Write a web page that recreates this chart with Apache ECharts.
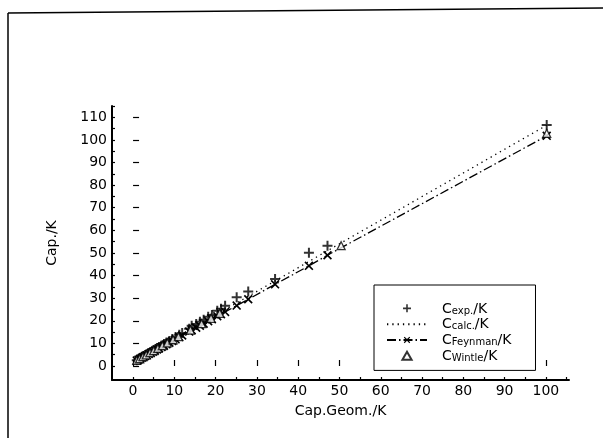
<!DOCTYPE html>
<html>
<head>
<meta charset="utf-8">
<script src="https://cdn.jsdelivr.net/npm/echarts@6/dist/echarts.min.js"></script>
<style>
  html, body { margin: 0; padding: 0; background: #fff; }
  #chart { width: 603px; height: 438px; }
</style>
</head>
<body>
<div id="chart"></div>
<script>
// geometric capacity (x) for the measured / calculated / Feynman values
const capGeom = [0.9, 1.3, 1.7, 2.1, 2.5, 2.9, 3.3, 3.8, 4.3, 4.8, 5.3, 5.8, 6.3, 6.9, 7.5, 8.1, 8.8, 9.5,
  10.3, 11.2, 11.9, 13.6, 14.2, 15.3, 16.2, 17.1, 18.2, 19.1, 20.4, 21.3, 22.3, 25.1, 27.9, 34.4, 42.6, 47.1, 100.2]
const capExp = [2.5, 2.9, 3.4, 3.8, 4.3, 4.7, 5.1, 5.7, 6.2, 6.8, 7.3, 7.9, 8.4, 9.1, 9.7, 10.4, 11.1, 11.9,
  12.8, 13.8, 14.6, 16.5, 17.8, 18.6, 19.6, 20.5, 21.8, 22.6, 24.4, 25.3, 26.6, 30.4, 32.9, 38.5, 50.1, 53.2, 106.6]
const capCalc = [2.4, 2.9, 3.3, 3.7, 4.1, 4.5, 5.0, 5.5, 6.0, 6.5, 7.1, 7.6, 8.1, 8.7, 9.4, 10.0, 10.7, 11.5,
  12.3, 13.3, 14.0, 15.8, 16.4, 17.6, 18.5, 19.5, 20.6, 21.6, 22.9, 23.9, 24.9, 27.9, 30.8, 37.6, 46.2, 51.0, 106.5]
const capFeynman = [2.4, 2.8, 3.2, 3.6, 4.0, 4.4, 4.8, 5.3, 5.8, 6.3, 6.8, 7.3, 7.8, 8.4, 9.0, 9.6, 10.3, 11.0,
  11.8, 12.8, 13.5, 15.2, 15.8, 16.9, 17.8, 18.7, 19.8, 20.7, 22.0, 22.9, 23.9, 26.7, 29.5, 36.1, 44.3, 49.0, 101.8]

// Wintle values have their own x positions
const wintleGeom = [0.9, 1.6, 2.4, 3.2, 4.1, 5.0, 6.0, 7.1, 8.3, 9.7, 11.0, 13.9, 16.6, 18.9, 21.0, 50.4, 100.2]
const capWintle = [2.5, 3.2, 4.1, 4.9, 5.9, 6.8, 7.8, 9.0, 10.2, 11.6, 13.0, 15.9, 18.7, 21.1, 23.3, 53.2, 102.9]

// tick labels
const xLabels = [0, 10, 20, 30, 40, 50, 60, 70, 80, 90, 100]
const yLabels = [0, 10, 20, 30, 40, 50, 60, 70, 80, 90, 100, 110]
const xMinorTicks = [0, 5, 10, 15, 20, 25, 30, 35, 40, 45, 50, 55, 60, 65, 70, 75, 80, 85, 90, 95, 100, 105]
const yMinorTicks = [0, 5, 10, 15, 20, 25, 30, 35, 40, 45, 50, 55, 60, 65, 70, 75, 80, 85, 90, 95, 100, 105, 110, 115]

const FONT = 'DejaVu Sans'
// symbol shapes
const plusPath = 'path://M4,0H6V4H10V6H6V10H4V6H0V4H4Z'
const crossPath = 'path://M1.3,0L5,3.7L8.7,0L10,1.3L6.3,5L10,8.7L8.7,10L5,6.3L1.3,10L0,8.7L3.7,5L0,1.3Z'
const triPath = 'path://M5,0L10,8.7L0,8.7Z'
const clear = 'rgba(0,0,0,0)'

const pairs = (xs, ys) => xs.map((x, i) => [x, ys[i]])

const chart = echarts.init(document.getElementById('chart'), null, { renderer: 'canvas' })

const baseAxis = {
  type: 'value',
  splitLine: { show: false },
  axisLine: { onZero: false, lineStyle: { color: '#000', width: 2 } }
}

const option = {
  animation: false,
  backgroundColor: '#fff',
  textStyle: { fontFamily: FONT, color: '#000' },
  grid: { left: 112, right: 34, top: 106, bottom: 58 },
  xAxis: [
    {
      ...baseAxis,
      min: -5.1,
      max: 105.6,
      name: 'Cap.Geom./K',
      nameLocation: 'middle',
      nameGap: 24,
      nameTextStyle: { fontFamily: FONT, fontSize: 14, color: '#000' },
      axisTick: { inside: true, length: 3, customValues: xMinorTicks, lineStyle: { color: '#000', width: 1.2 } },
      axisLabel: { customValues: xLabels, fontFamily: FONT, fontSize: 14, color: '#000', margin: 4 }
    },
    {
      type: 'value', position: 'bottom', min: -5.1, max: 105.6,
      splitLine: { show: false },
      axisLine: { show: false },
      axisLabel: { show: false },
      axisTick: { inside: true, length: 6, customValues: xLabels, lineStyle: { color: '#000', width: 1.2 } }
    }
  ],
  yAxis: [
    {
      ...baseAxis,
      min: -6.2,
      max: 115,
      name: 'Cap./K',
      nameLocation: 'middle',
      nameGap: 53,
      nameTextStyle: { fontFamily: FONT, fontSize: 14, color: '#000' },
      axisTick: { inside: true, length: 3, customValues: yMinorTicks, lineStyle: { color: '#000', width: 1.2 } },
      axisLabel: { customValues: yLabels, fontFamily: FONT, fontSize: 14, color: '#000', margin: 5 }
    },
    {
      type: 'value', position: 'left', min: -6.2, max: 115,
      splitLine: { show: false },
      axisLine: { show: false },
      axisLabel: { show: false },
      axisTick: { inside: true, length: 6, customValues: yLabels, lineStyle: { color: '#000', width: 1.2 } }
    }
  ],
  legend: {
    orient: 'vertical',
    left: 374,
    top: 285,
    padding: [17, 24, 7, 12],
    itemWidth: 40,
    itemHeight: 8,
    itemGap: 1.8,
    backgroundColor: '#fff',
    borderColor: '#000',
    borderWidth: 1,
    borderRadius: 0,
    data: [
      { name: 'exp' },
      { name: 'calc', itemStyle: { color: clear, borderColor: clear, borderWidth: 0 } },
      { name: 'Feynman' },
      { name: 'Wintle' }
    ],
    formatter: name => `{c|C}{s|${name === 'exp' ? 'exp.' : name === 'calc' ? 'calc.' : name}}{c|/K}`,
    textStyle: {
      fontFamily: FONT,
      color: '#000',
      rich: {
        c: { fontFamily: FONT, fontSize: 14, color: '#000', lineHeight: 15.3, verticalAlign: 'bottom' },
        s: { fontFamily: FONT, fontSize: 10, color: '#000', lineHeight: 15.3, verticalAlign: 'bottom' }
      },
      padding: [0, 0, 0, 10]
    }
  },
  graphic: [
    { type: 'line', shape: { x1: 8, y1: 13, x2: 603, y2: 8 }, style: { stroke: '#000', lineWidth: 1.5 }, silent: true },
    { type: 'line', shape: { x1: 8, y1: 13, x2: 8, y2: 438 }, style: { stroke: '#000', lineWidth: 1.5 }, silent: true }
  ],
  series: [
    {
      name: 'exp',
      type: 'scatter',
      data: pairs(capGeom, capExp),
      symbol: plusPath,
      symbolSize: 10,
      itemStyle: { color: '#000' },
      z: 4
    },
    {
      name: 'calc',
      type: 'line',
      data: pairs(capGeom, capCalc),
      symbol: 'none',
      showSymbol: false,
      lineStyle: { color: '#000', width: 1.3, type: [1.3, 4] },
      itemStyle: { color: '#000' },
      z: 2
    },
    {
      name: 'Feynman',
      type: 'line',
      data: pairs(capGeom, capFeynman),
      symbol: crossPath,
      symbolSize: 9,
      showSymbol: true,
      lineStyle: { color: '#000', width: 1.3, type: [9, 3, 1.5, 3] },
      itemStyle: { color: '#000' },
      z: 3
    },
    {
      name: 'Wintle',
      type: 'scatter',
      data: pairs(wintleGeom, capWintle),
      symbol: triPath,
      symbolSize: 8,
      itemStyle: { color: '#fff', borderColor: '#000', borderWidth: 1.3 },
      z: 5
    }
  ]
}

chart.setOption(option)
</script>
</body>
</html>
